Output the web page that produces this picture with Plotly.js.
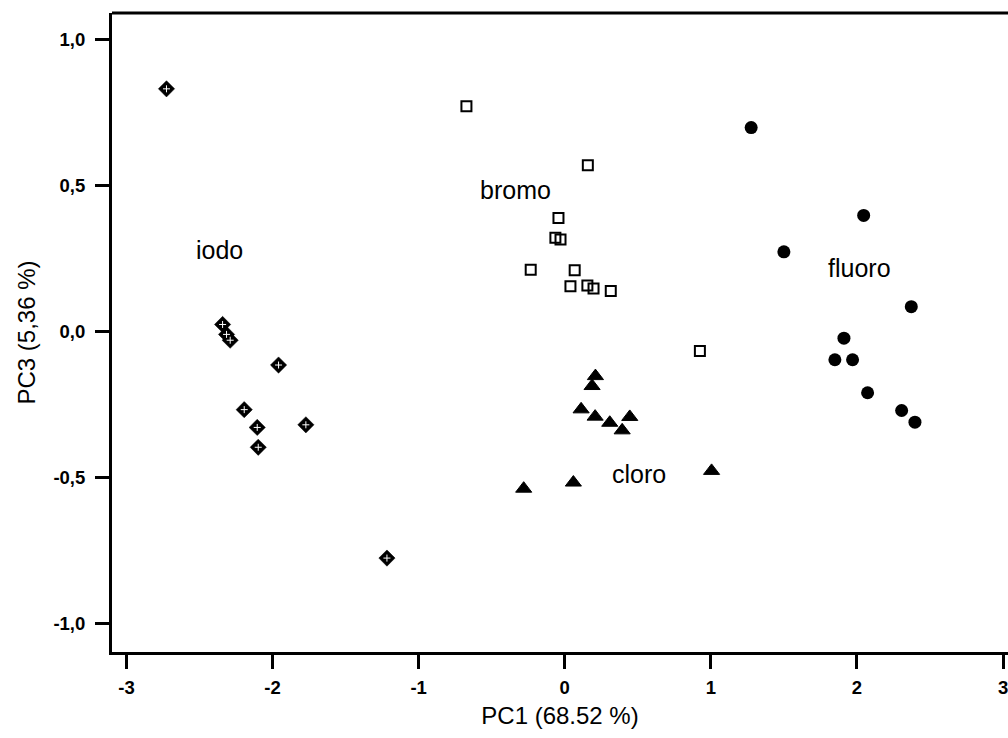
<!DOCTYPE html>
<html>
<head>
<meta charset="utf-8">
<script src="https://cdn.plot.ly/plotly-3.0.1.min.js"></script>
<style>
  html, body { margin: 0; padding: 0; background: #ffffff; overflow: hidden; }
  #chart { width: 1008px; height: 738px; }
</style>
</head>
<body>
<div id="chart"></div>
<script>
// ---- data ----
const iodoX = [-2.726, -2.342, -2.315, -2.290, -1.959, -2.194, -2.105, -2.098, -1.772, -1.217];
const iodoY = [0.832, 0.024, -0.010, -0.030, -0.115, -0.268, -0.329, -0.397, -0.320, -0.777];

const bromoX = [-0.673, 0.158, -0.043, -0.064, -0.029, -0.233, 0.068, 0.039, 0.155, 0.197, 0.315, 0.925];
const bromoY = [0.772, 0.570, 0.389, 0.321, 0.315, 0.212, 0.210, 0.155, 0.158, 0.147, 0.139, -0.067];

const cloroX = [0.210, 0.187, 0.112, 0.208, 0.308, 0.445, 0.393, -0.281, 0.059, 1.005];
const cloroY = [-0.153, -0.187, -0.267, -0.292, -0.313, -0.293, -0.339, -0.539, -0.518, -0.478];

const fluoroX = [1.276, 2.046, 1.500, 2.372, 1.911, 1.849, 1.970, 2.073, 2.306, 2.397];
const fluoroY = [0.699, 0.398, 0.273, 0.085, -0.023, -0.097, -0.097, -0.210, -0.271, -0.311];

const groupNames = ['iodo', 'bromo', 'cloro', 'fluoro'];
const labelX = [-2.363, -0.336, 0.507, 2.020];
const labelY = [0.281, 0.486, -0.490, 0.219];

const xTickVals = [-3, -2, -1, 0, 1, 2, 3];
const xTickLabels = ['-3', '-2', '-1', '0', '1', '2', '3'];
const yTickVals = [-1.0, -0.5, 0.0, 0.5, 1.0];
const yTickLabels = ['-1,0', '-0,5', '0,0', '0,5', '1,0'];

const xTitle = 'PC1 (68.52 %)';
const yTitle = 'PC3 (5,36 %)';

// ---- chart ----
const FONT = 'Liberation Sans, Arial, Helvetica, sans-serif';

const traces = [
  { x: iodoX, y: iodoY, type: 'scatter', mode: 'markers', name: 'iodo',
    marker: { symbol: 'diamond', size: 12.5, color: '#000', line: { width: 0.5, color: '#000' } } },
  { x: iodoX, y: iodoY, type: 'scatter', mode: 'markers', name: 'iodo-c',
    marker: { symbol: 'cross-thin-open', size: 5, color: '#fff', line: { width: 1, color: '#fff' } } },
  { x: bromoX, y: bromoY, type: 'scatter', mode: 'markers', name: 'bromo',
    marker: { symbol: 'square-open', size: 10, color: '#000', line: { width: 2, color: '#000' } } },
  { x: cloroX, y: cloroY, type: 'scatter', mode: 'markers', name: 'cloro',
    marker: { symbol: 'triangle-up', size: 14, color: '#000', line: { width: 1, color: '#000' } } },
  { x: fluoroX, y: fluoroY, type: 'scatter', mode: 'markers', name: 'fluoro',
    marker: { symbol: 'circle', size: 13, color: '#000', line: { width: 0 } } }
];

const annotations = groupNames.map((t, i) => ({
  x: labelX[i], y: labelY[i], xref: 'x', yref: 'y', text: t, showarrow: false,
  font: { family: FONT, size: 25, color: '#000' }
}));

const layout = {
  width: 1008, height: 738,
  margin: { l: 112, r: 0, t: 13, b: 86 },
  paper_bgcolor: '#fff', plot_bgcolor: '#fff',
  showlegend: false,
  font: { family: FONT, color: '#000' },
  xaxis: {
    range: [-3.099, 3.034], showgrid: false, zeroline: false,
    showline: true, linewidth: 3, linecolor: '#000',
    ticks: 'outside', ticklen: 14, tickwidth: 3, tickcolor: '#000',
    tickmode: 'array', tickvals: xTickVals, ticktext: xTickLabels,
    tickfont: { family: FONT, size: 18.5, weight: 'bold', color: '#000' },
    ticklabelstandoff: 3, ticklabeloverflow: 'allow',
    title: { text: xTitle, font: { family: FONT, size: 24, color: '#000' }, standoff: 10 }
  },
  yaxis: {
    range: [-1.099, 1.092], showgrid: false, zeroline: false,
    showline: true, linewidth: 3, linecolor: '#000',
    ticks: 'outside', ticklen: 14, tickwidth: 3, tickcolor: '#000',
    tickmode: 'array', tickvals: yTickVals, ticktext: yTickLabels,
    tickfont: { family: FONT, size: 18.5, weight: 'bold', color: '#000' },
    ticklabelstandoff: 6,
    title: { text: yTitle, font: { family: FONT, size: 24, color: '#000' }, standoff: 12 }
  },
  shapes: [
    { type: 'line', xref: 'paper', yref: 'paper', x0: 0, x1: 1, y0: 1, y1: 1,
      line: { color: '#000', width: 3 } }
  ],
  annotations: annotations
};

Plotly.newPlot('chart', traces, layout, { displayModeBar: false, staticPlot: true });
</script>
</body>
</html>
